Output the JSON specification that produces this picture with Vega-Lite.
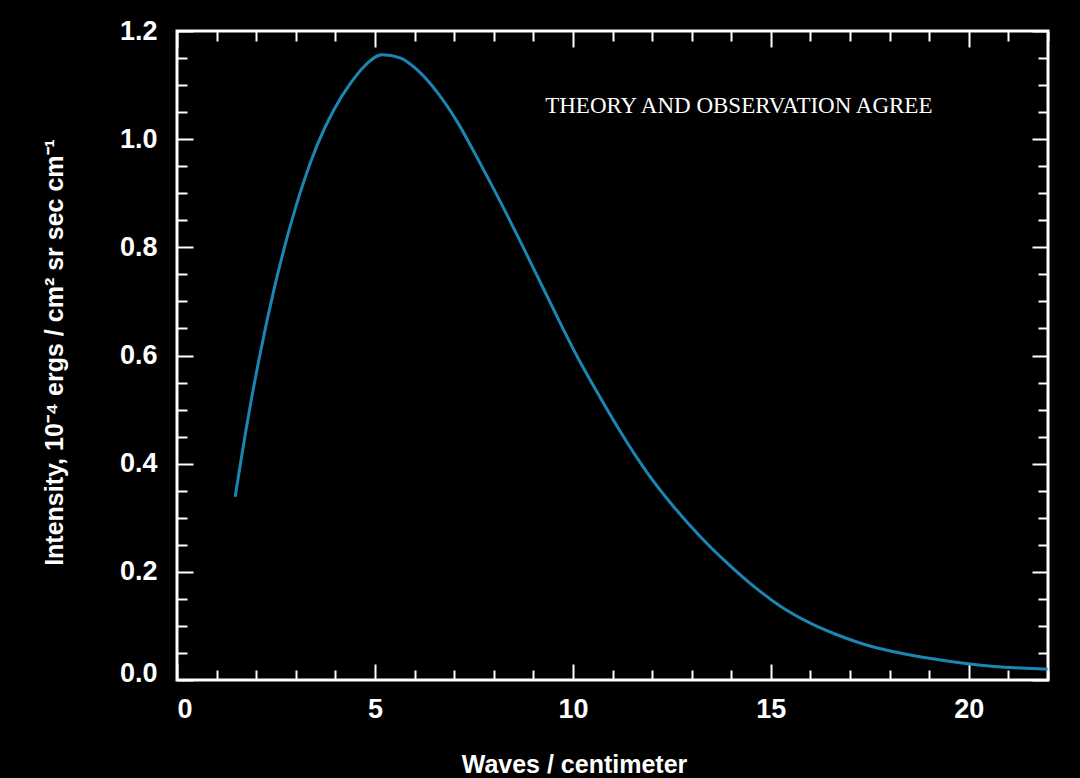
{
  "$schema": "https://vega.github.io/schema/vega-lite/v6.json",
  "width": 871,
  "height": 649,
  "autosize": "none",
  "padding": {"left": 177, "top": 31, "right": 32, "bottom": 98},
  "background": "black",
  "config": {
    "view": {"stroke": "white", "strokeWidth": 3},
    "axis": {
      "domain": false,
      "grid": false,
      "tickColor": "white",
      "tickWidth": 2,
      "labelColor": "white",
      "titleColor": "white",
      "labelFont": "Liberation Sans",
      "titleFont": "Liberation Sans",
      "labelFontWeight": "bold",
      "titleFontWeight": "bold",
      "labelFontSize": 27,
      "titleFontSize": 25,
      "labelOverlap": false,
      "labelBound": false
    }
  },
  "datasets": {
    "curve": [
      {"wavenumber": 1.47, "intensity": 0.339},
      {"wavenumber": 1.77, "intensity": 0.474},
      {"wavenumber": 2.11, "intensity": 0.607},
      {"wavenumber": 2.44, "intensity": 0.719},
      {"wavenumber": 2.78, "intensity": 0.818},
      {"wavenumber": 3.20, "intensity": 0.921},
      {"wavenumber": 3.54, "intensity": 0.989},
      {"wavenumber": 3.96, "intensity": 1.054},
      {"wavenumber": 4.38, "intensity": 1.103},
      {"wavenumber": 4.72, "intensity": 1.134},
      {"wavenumber": 5.18, "intensity": 1.156},
      {"wavenumber": 5.65, "intensity": 1.150},
      {"wavenumber": 6.07, "intensity": 1.128},
      {"wavenumber": 6.57, "intensity": 1.087},
      {"wavenumber": 7.08, "intensity": 1.032},
      {"wavenumber": 7.55, "intensity": 0.970},
      {"wavenumber": 8.12, "intensity": 0.891},
      {"wavenumber": 8.67, "intensity": 0.811},
      {"wavenumber": 9.18, "intensity": 0.735},
      {"wavenumber": 9.68, "intensity": 0.660},
      {"wavenumber": 10.19, "intensity": 0.587},
      {"wavenumber": 10.70, "intensity": 0.521},
      {"wavenumber": 11.20, "intensity": 0.459},
      {"wavenumber": 11.87, "intensity": 0.384},
      {"wavenumber": 12.55, "intensity": 0.320},
      {"wavenumber": 13.22, "intensity": 0.265},
      {"wavenumber": 13.90, "intensity": 0.216},
      {"wavenumber": 14.57, "intensity": 0.173},
      {"wavenumber": 15.25, "intensity": 0.136},
      {"wavenumber": 15.92, "intensity": 0.108},
      {"wavenumber": 16.59, "intensity": 0.086},
      {"wavenumber": 17.27, "intensity": 0.068},
      {"wavenumber": 17.94, "intensity": 0.055},
      {"wavenumber": 18.62, "intensity": 0.045},
      {"wavenumber": 19.29, "intensity": 0.037},
      {"wavenumber": 19.97, "intensity": 0.030},
      {"wavenumber": 20.64, "intensity": 0.025},
      {"wavenumber": 21.31, "intensity": 0.022},
      {"wavenumber": 21.99, "intensity": 0.020}
    ],
    "note": [
      {"wavenumber": 9.3, "intensity": 1.048, "label": "THEORY AND OBSERVATION AGREE"}
    ]
  },
  "layer": [
    {
      "data": {"name": "curve"},
      "mark": {"type": "line", "color": "#1b86b2", "strokeWidth": 3, "clip": true, "interpolate": "monotone"},
      "encoding": {
        "x": {
          "field": "wavenumber",
          "type": "quantitative",
          "scale": {"domain": [0, 22], "nice": false, "zero": false},
          "axis": {
            "orient": "bottom",
            "values": [0,1,2,3,4,5,6,7,8,9,10,11,12,13,14,15,16,17,18,19,20,21,22],
            "labelExpr": "datum.value % 5 === 0 ? datum.label : ''",
            "tickSize": {"condition": {"test": "datum.value % 5 === 0", "value": -16}, "value": -10},
            "labelPadding": 32,
            "title": "Waves / centimeter",
            "titleX": 397,
            "titleY": 92,
            "titleBaseline": "alphabetic",
            "titleAlign": "center"
          }
        },
        "y": {
          "field": "intensity",
          "type": "quantitative",
          "scale": {"domain": [0, 1.2], "nice": false, "zero": false},
          "axis": {
            "orient": "left",
            "values": [0,0.05,0.1,0.15,0.2,0.25,0.3,0.35,0.4,0.45,0.5,0.55,0.6,0.65,0.7,0.75,0.8,0.85,0.9,0.95,1.0,1.05,1.1,1.15,1.2],
            "labelExpr": "abs(datum.value*5 - round(datum.value*5)) < 0.001 ? format(datum.value, '.1f') : ''",
            "tickSize": {"condition": {"test": "abs(datum.value*5 - round(datum.value*5)) < 0.001", "value": -16}, "value": -10},
            "labelOffset": {"condition": {"test": "datum.value === 0", "value": -7}, "value": 0},
            "labelPadding": 36,
            "title": "Intensity, 10⁻⁴ ergs / cm² sr sec cm⁻¹",
            "titleX": -115,
            "titleY": 321,
            "titleBaseline": "alphabetic",
            "titleAlign": "center",
            "titleAngle": -90
          }
        }
      }
    },
    {
      "data": {"name": "curve"},
      "mark": {"type": "line", "opacity": 0},
      "encoding": {
        "x": {
          "field": "wavenumber",
          "type": "quantitative",
          "scale": {"domain": [0, 22], "nice": false, "zero": false},
          "axis": {
            "orient": "top",
            "values": [0,1,2,3,4,5,6,7,8,9,10,11,12,13,14,15,16,17,18,19,20,21,22],
            "labels": false,
            "tickSize": {"condition": {"test": "datum.value % 5 === 0", "value": -16}, "value": -10},
            "title": null
          }
        },
        "y": {
          "field": "intensity",
          "type": "quantitative",
          "scale": {"domain": [0, 1.2], "nice": false, "zero": false},
          "axis": {
            "orient": "right",
            "values": [0,0.05,0.1,0.15,0.2,0.25,0.3,0.35,0.4,0.45,0.5,0.55,0.6,0.65,0.7,0.75,0.8,0.85,0.9,0.95,1.0,1.05,1.1,1.15,1.2],
            "labels": false,
            "tickSize": {"condition": {"test": "abs(datum.value*5 - round(datum.value*5)) < 0.001", "value": -16}, "value": -10},
            "title": null
          }
        }
      }
    },
    {
      "data": {"name": "note"},
      "mark": {"type": "text", "font": "Liberation Serif", "fontSize": 23, "color": "white", "align": "left", "baseline": "alphabetic"},
      "encoding": {
        "x": {"field": "wavenumber", "type": "quantitative", "axis": null},
        "y": {"field": "intensity", "type": "quantitative", "axis": null},
        "text": {"field": "label"}
      }
    }
  ],
  "resolve": {"axis": {"x": "independent", "y": "independent"}}
}
